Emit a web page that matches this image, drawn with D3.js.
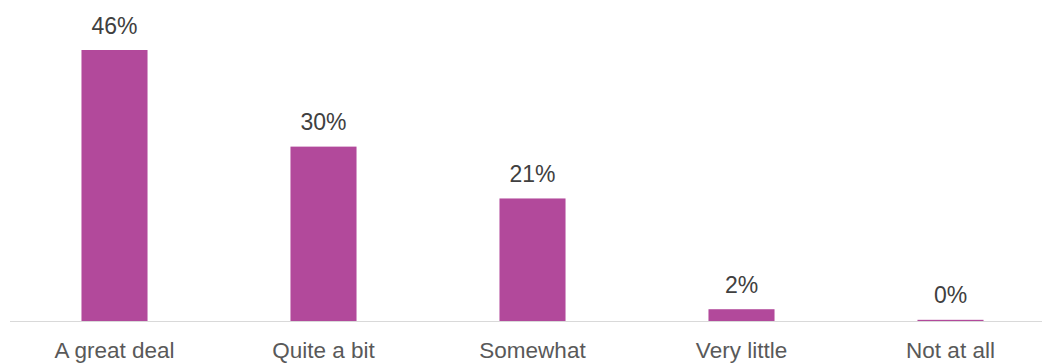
<!DOCTYPE html>
<html>
<head>
<meta charset="utf-8">
<script src="https://cdn.jsdelivr.net/npm/d3@7"></script>
<style>
  html, body { margin: 0; padding: 0; background: #fff; }
  svg { display: block; }
  text { font-family: "Liberation Sans", Arial, sans-serif; }
</style>
</head>
<body>
<div id="chart"></div>
<script>
const categories = ["A great deal", "Quite a bit", "Somewhat", "Very little", "Not at all"];
const values = [46, 29.6, 20.8, 2, 0.2];
const labels = ["46%", "30%", "21%", "2%", "0%"];

const width = 1042;
const height = 363;
const baseY = 321;

const svg = d3.select("#chart").append("svg")
    .attr("width", width)
    .attr("height", height);

// bands run past the right edge, like the original chart crop
const x = d3.scaleBand()
    .domain(categories)
    .range([10, 1055])
    .paddingInner(0.684)
    .paddingOuter(0.342);

const y = d3.scaleLinear()
    .domain([0, 46])
    .range([baseY, 50]);

const data = categories.map((c, i) => ({ cat: c, value: values[i], label: labels[i] }));

svg.selectAll("rect.bar")
    .data(data)
    .enter()
    .append("rect")
    .attr("class", "bar")
    .attr("x", d => x(d.cat))
    .attr("y", d => y(d.value))
    .attr("width", x.bandwidth())
    .attr("height", d => Math.max(1, baseY - y(d.value)))
    .attr("fill", "#b2499b");

// baseline
svg.append("line")
    .attr("x1", 10)
    .attr("x2", width)
    .attr("y1", baseY + 0.5)
    .attr("y2", baseY + 0.5)
    .attr("stroke", "#d9d9d9")
    .attr("stroke-width", 1);

// value labels
svg.selectAll("text.val")
    .data(data)
    .enter()
    .append("text")
    .attr("class", "val")
    .attr("x", d => x(d.cat) + x.bandwidth() / 2)
    .attr("y", d => y(d.value) - 16.5)
    .attr("text-anchor", "middle")
    .attr("font-size", "23px")
    .attr("fill", "#404040")
    .text(d => d.label);

// category labels
const xAxis = d3.axisBottom(x).tickSize(0).tickPadding(0);
const axisG = svg.append("g")
    .attr("transform", `translate(0,${baseY})`)
    .call(xAxis);
axisG.select(".domain").remove();
axisG.selectAll("text")
    .attr("dy", null)
    .attr("y", 36.5)
    .attr("font-size", "22.5px")
    .attr("font-family", "'Liberation Sans', Arial, sans-serif")
    .attr("fill", "#595959");
</script>
</body>
</html>
